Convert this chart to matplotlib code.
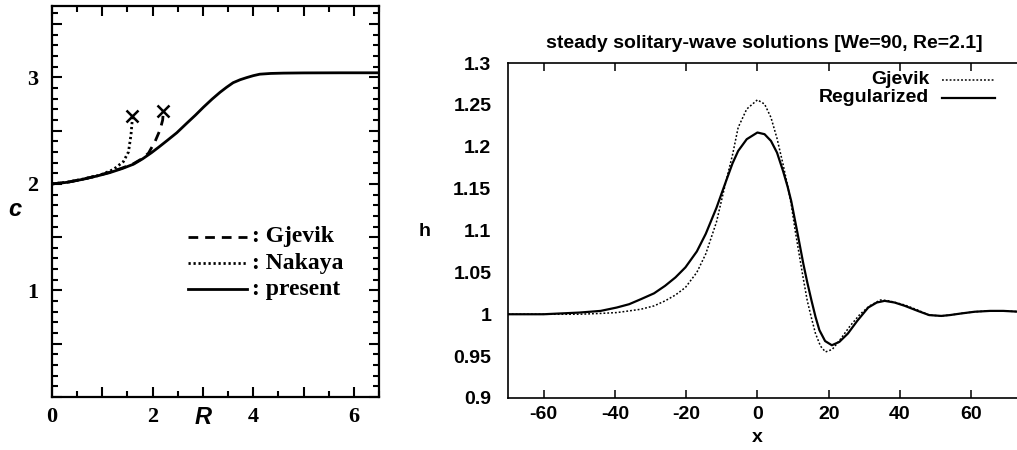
import numpy as np
import matplotlib.pyplot as plt
from matplotlib.ticker import MultipleLocator, FuncFormatter

plt.rcParams['axes.unicode_minus'] = False

# ---- left panel: wave speed c against R ----
R_present = [0.0, 0.3, 0.62, 0.9, 1.15, 1.4, 1.62, 1.8, 1.98, 2.13, 2.28, 2.48, 2.68,
             2.85, 3.01, 3.18, 3.34, 3.47, 3.60, 3.74, 3.87, 4.0, 4.13, 4.35, 4.6, 5.0, 5.73, 6.5]
c_present = [2.0, 2.015, 2.044, 2.075, 2.106, 2.145, 2.185, 2.235, 2.294, 2.348, 2.404, 2.48, 2.57,
             2.645, 2.72, 2.795, 2.86, 2.907, 2.95, 2.978, 2.998, 3.016, 3.03, 3.037, 3.04, 3.042, 3.043, 3.043]

R_nakaya = [0.0, 0.3, 0.62, 0.95, 1.22, 1.42, 1.52, 1.57, 1.59, 1.60]
c_nakaya = [2.0, 2.016, 2.046, 2.082, 2.135, 2.21, 2.30, 2.46, 2.57, 2.62]

R_gjevik = [0.0, 0.3, 0.62, 0.9, 1.15, 1.4, 1.62, 1.8, 1.92, 2.05, 2.15, 2.2, 2.21]
c_gjevik = [2.0, 2.015, 2.045, 2.077, 2.11, 2.15, 2.19, 2.24, 2.29, 2.40, 2.51, 2.60, 2.66]

# ---- right panel: steady solitary-wave profiles ----
x_reg = [-70, -60, -50, -44, -39.5, -36, -32.7, -29, -25.9, -23, -20.2, -17, -14.5, -11.5, -8.8,
         -7, -5.4, -3, 0, 2, 3.8, 5.5, 7.2, 8.5, 9.5, 11.2, 12.9, 14, 15.2, 16.3, 17.4, 19, 20.9,
         23, 25.4, 28, 31.1, 33.5, 35.7, 38.5, 41.4, 45, 48.2, 51.6, 54, 57.3, 61, 65.3, 69, 73.5]
h_reg = [1.0, 1.0, 1.002, 1.004, 1.008, 1.012, 1.018, 1.025, 1.034, 1.044, 1.056, 1.075, 1.096, 1.127, 1.159,
         1.18, 1.195, 1.209, 1.217, 1.215, 1.207, 1.193, 1.171, 1.152, 1.135, 1.098, 1.06, 1.038, 1.016, 0.997, 0.981, 0.968, 0.963,
         0.967, 0.977, 0.992, 1.008, 1.014, 1.016, 1.014, 1.010, 1.004, 0.999, 0.998, 0.999, 1.001, 1.003, 1.004, 1.004, 1.003]

x_gj = [-70, -60, -50, -44, -39.5, -36, -32.7, -29, -25.9, -23, -20.2, -17, -14.5, -11.5, -8.8,
        -7, -5.4, -3, 0, 2, 3.8, 5.5, 7.2, 8.5, 9.5, 10.6, 11.7, 12.9, 14, 15.2, 16.3, 17.7, 19.1,
        21, 23.1, 26, 28.8, 31.5, 34.5, 37, 41.4, 45, 48.2, 51.6, 54, 57.3, 61, 65.3, 69, 73.5]
h_gj = [1.0, 1.0, 1.0, 1.001, 1.002, 1.004, 1.006, 1.01, 1.016, 1.023, 1.032, 1.05, 1.072, 1.11, 1.159,
        1.19, 1.223, 1.245, 1.256, 1.251, 1.235, 1.21, 1.179, 1.153, 1.131, 1.1, 1.072, 1.042, 1.016, 0.995, 0.977, 0.962, 0.955,
        0.958, 0.969, 0.986, 1.0, 1.01, 1.017, 1.016, 1.011, 1.005, 0.999, 0.998, 0.999, 1.001, 1.003, 1.004, 1.004, 1.003]

W, H = 1017, 450
fig = plt.figure(figsize=(W / 100, H / 100), dpi=100)


def px_axes(left, right, top, bottom):
    return fig.add_axes([left / W, 1 - bottom / H, (right - left) / W, (bottom - top) / H])


serif = ['Liberation Serif', 'DejaVu Serif']
sans = ['Liberation Sans', 'DejaVu Sans']

# left panel
ax1 = px_axes(52, 379, 6, 397)
ax1.plot(R_present, c_present, color='black', lw=2.0)
ax1.plot(R_nakaya, c_nakaya, color='black', lw=2.0, ls=(0, (0.8, 1.0)))
ax1.plot(R_gjevik, c_gjevik, color='black', lw=2.0, ls=(0, (3.5, 2.5)))
ax1.plot([R_nakaya[-1], R_gjevik[-1]], [c_nakaya[-1] + 0.015, c_gjevik[-1] + 0.02], 'x',
         color='black', ms=9, mew=1.8)
ax1.set_xlim(0, 6.5)
ax1.set_ylim(0, 3.67)
ax1.xaxis.set_major_locator(MultipleLocator(1))
ax1.xaxis.set_minor_locator(MultipleLocator(0.5))
ax1.yaxis.set_major_locator(MultipleLocator(0.5))
ax1.yaxis.set_minor_locator(MultipleLocator(0.1))
ax1.xaxis.set_major_formatter(FuncFormatter(lambda v, p: f'{int(v)}' if abs(v % 2) < 1e-6 else ''))
ax1.yaxis.set_major_formatter(FuncFormatter(lambda v, p: f'{int(v)}' if abs(v - round(v)) < 1e-6 and v > 0 else ''))
ax1.tick_params(which='both', direction='in', top=True, right=True, width=1.5)
ax1.tick_params(which='major', length=7)
ax1.tick_params(which='minor', length=4)
ax1.tick_params(axis='x', pad=7)
ax1.tick_params(axis='y', pad=10)
for lab in ax1.get_xticklabels() + ax1.get_yticklabels():
    lab.set_family(serif)
    lab.set_fontweight('bold')
    lab.set_fontsize(16)
for s in ax1.spines.values():
    s.set_linewidth(1.6)
fig.text(203 / W, 1 - 418 / H, 'R', family=sans, fontsize=17, fontweight='bold',
         style='italic', ha='center', va='center')
fig.text(15 / W, 1 - 210 / H, 'c', family=sans, fontsize=17, fontweight='bold',
         style='italic', ha='center', va='center')

# legend of left panel drawn as lines plus text
leg_items = [((3.5, 2.5), ': Gjevik', 237), ((0.8, 1.0), ': Nakaya', 263), (None, ': present', 289)]
for dash, label, ypx in leg_items:
    yy = 1 - ypx / H
    ls = '-' if dash is None else (0, dash)
    fig.add_artist(plt.Line2D([188 / W, 247 / W], [yy, yy], color='black', lw=2.0, ls=ls))
    fig.text(252 / W, yy, label, family=serif, fontsize=17, fontweight='bold',
             ha='left', va='center')

# right panel
ax2 = px_axes(508, 1020, 63, 398)
ax2.plot(x_gj, h_gj, color='black', lw=1.1, ls=(0, (1.2, 1.3)), label='Gjevik')
ax2.plot(x_reg, h_reg, color='black', lw=1.6, label='Regularized')
ax2.set_xlim(-70, 73.7)
ax2.set_ylim(0.9, 1.3)
ax2.set_xticks([-60, -40, -20, 0, 20, 40, 60])
ax2.set_yticks([0.9, 0.95, 1.0, 1.05, 1.1, 1.15, 1.2, 1.25, 1.3])
ax2.set_yticklabels(['0.9', '0.95', '1', '1.05', '1.1', '1.15', '1.2', '1.25', '1.3'])
ax2.tick_params(axis='x', direction='in', top=True, length=6, width=1.1, pad=6)
ax2.tick_params(axis='y', direction='in', length=0, pad=12)
for lab in ax2.get_xticklabels() + ax2.get_yticklabels():
    lab.set_family(sans)
    lab.set_fontweight('bold')
    lab.set_fontsize(14)
for s in ax2.spines.values():
    s.set_linewidth(1.2)
ax2.set_title('steady solitary-wave solutions [We=90, Re=2.1]', family=sans,
              fontweight='bold', fontsize=14, pad=11)
fig.text(425 / W, 1 - 231 / H, 'h', family=sans, fontsize=14, fontweight='bold',
         ha='center', va='center')
fig.text(757 / W, 1 - 438 / H, 'x', family=sans, fontsize=14, fontweight='bold',
         ha='center', va='center')

# right panel key
for lw, ls, label, ypx in [(1.1, (0, (1.2, 1.3)), 'Gjevik', 80), (1.6, '-', 'Regularized', 98)]:
    yy = 1 - ypx / H
    fig.add_artist(plt.Line2D([942 / W, 995 / W], [yy, yy], color='black', lw=lw, ls=ls))
    fig.text(929 / W, yy, label, family=sans, fontsize=14, fontweight='bold',
             ha='right', va='center')

fig.savefig('out.png', dpi=100)
